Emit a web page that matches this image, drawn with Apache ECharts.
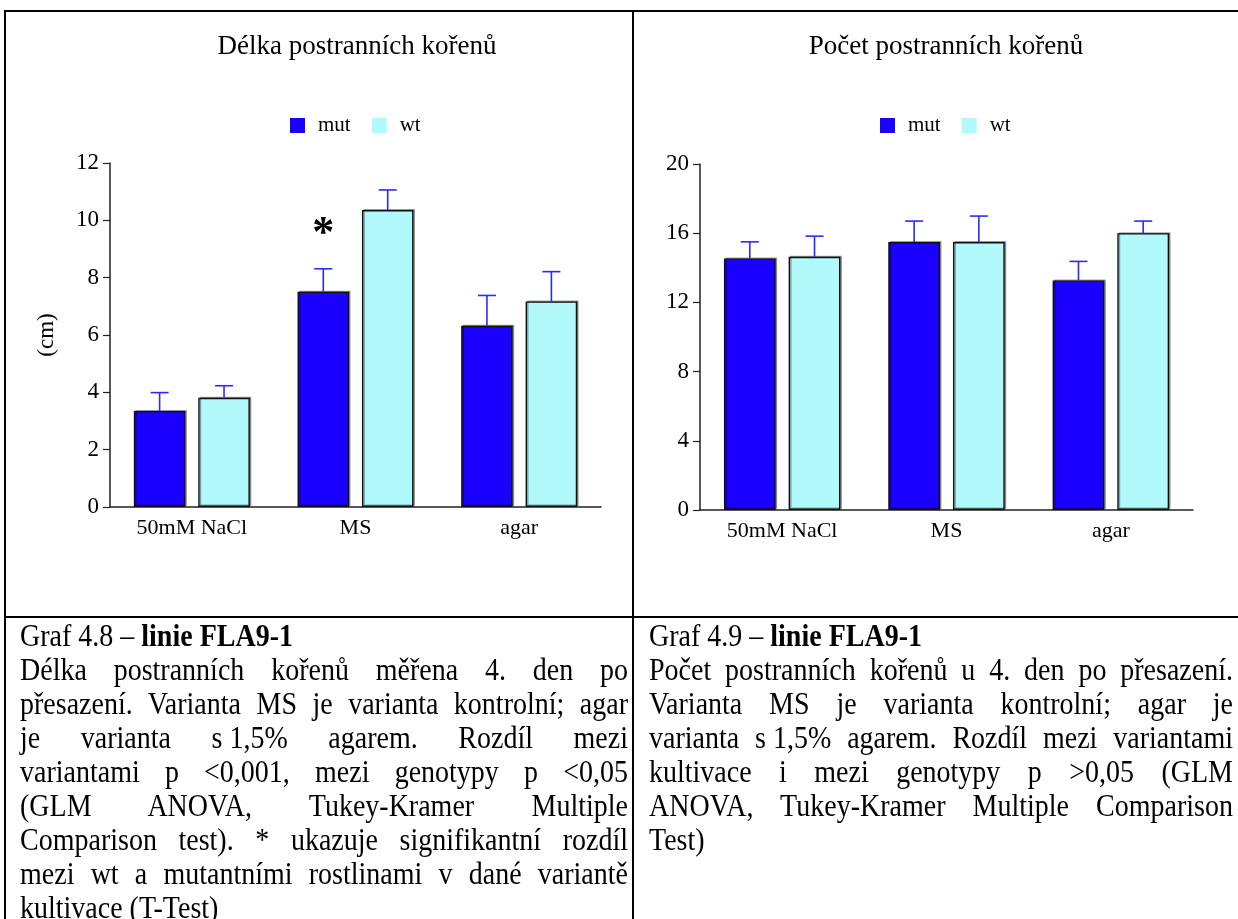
<!DOCTYPE html>
<html>
<head>
<meta charset="utf-8">
<script src="https://cdn.jsdelivr.net/npm/echarts@6/dist/echarts.min.js"></script>
<style>
html,body{margin:0;padding:0;background:#fff;}
#page{position:relative;width:1238px;height:919px;overflow:hidden;background:#fff;}
#chart{position:absolute;left:0;top:0;width:1238px;height:919px;}
.hl,.vl{position:absolute;background:#000;}
.cap{position:absolute;font-family:'Liberation Serif','Times New Roman',serif;font-size:28px;line-height:34px;color:#000;}
.cap div{white-space:nowrap;transform:scaleY(1.1);transform-origin:50% 50%;}
.j{text-align:justify;text-align-last:justify;}
.ib{display:inline-block;}
</style>
</head>
<body>
<div id="page">
  <div id="chart"></div>
  <div class="hl" style="left:4px;top:10px;width:1234px;height:2px;"></div>
  <div class="hl" style="left:4px;top:616px;width:1234px;height:2px;"></div>
  <div class="vl" style="left:4px;top:10px;width:2px;height:909px;"></div>
  <div class="vl" style="left:632px;top:10px;width:2px;height:909px;"></div>
  <div class="cap" style="left:20px;top:619px;width:608px;">
    <div>Graf 4.8 – <b>linie FLA9-1</b></div>
    <div class="j">Délka postranních kořenů měřena 4. den po</div>
    <div class="j">přesazení. Varianta MS je varianta kontrolní; agar</div>
    <div class="j">je varianta <span class="ib">s&nbsp;1,5%</span> agarem. Rozdíl mezi</div>
    <div class="j">variantami p &lt;0,001, mezi genotypy p &lt;0,05</div>
    <div class="j">(GLM ANOVA, Tukey-Kramer Multiple</div>
    <div class="j">Comparison test). * ukazuje signifikantní rozdíl</div>
    <div class="j">mezi wt a mutantními rostlinami v dané variantě</div>
    <div>kultivace (T-Test)</div>
  </div>
  <div class="cap" style="left:649px;top:619px;width:584px;">
    <div>Graf 4.9 – <b>linie FLA9-1</b></div>
    <div class="j">Počet postranních kořenů u 4. den po přesazení.</div>
    <div class="j">Varianta MS je varianta kontrolní; agar je</div>
    <div class="j">varianta <span class="ib">s&nbsp;1,5%</span> agarem. Rozdíl mezi variantami</div>
    <div class="j">kultivace i mezi genotypy p &gt;0,05 (GLM</div>
    <div class="j">ANOVA, Tukey-Kramer Multiple Comparison</div>
    <div>Test)</div>
  </div>
</div>
<script>
// ---- data ----
const categories = ['50mM NaCl', 'MS', 'agar'];
const seriesNames = ['mut', 'wt'];
// Délka postranních kořenů (cm)
const lengthMut = [3.35, 7.51, 6.32];
const lengthMutErr = [0.64, 0.80, 1.06];
const lengthWt = [3.81, 10.36, 7.17];
const lengthWtErr = [0.42, 0.70, 1.04];
const lengthSignif = ['', '*', ''];   // marker above mut bar
const lengthSignifValue = [null, 9.73, null];
// Počet postranních kořenů
const countMut = [14.54, 15.49, 13.27];
const countMutErr = [0.96, 1.21, 1.10];
const countWt = [14.64, 15.49, 16.00];
const countWtErr = [1.19, 1.50, 0.70];
// axes
const lengthAxis = {min: 0, max: 12, interval: 2};
const countAxis = {min: 0, max: 20, interval: 4};
const titles = ['Délka postranních kořenů', 'Počet postranních kořenů'];
const yName = '(cm)';

// ---- styling ----
const FONT = "'Liberation Serif', 'Times New Roman', serif";
const MUT_COLOR = '#1a00ff';
const WT_COLOR = '#b2f9fc';
const ERR_COLOR = '#2a2aff';
const BAR_FRAC = 0.315;
const BAR_GAP = 0.25;
const STAR_SIZE = 44;

const chart = echarts.init(document.getElementById('chart'), null, {renderer: 'canvas'});

function barOffset(api, side) {
  const band = api.size([1, 0])[0];
  const bw = band * BAR_FRAC;
  return side * bw * (1 + BAR_GAP) / 2;
}

function errRender(side) {
  return function (params, api) {
    const i = api.value(0);
    const v = api.value(1);
    const e = api.value(2);
    const base = api.coord([i, v]);
    const top = api.coord([i, v + e]);
    const x = base[0] + barOffset(api, side);
    const st = {stroke: ERR_COLOR, lineWidth: 1.6};
    return {
      type: 'group',
      children: [
        {type: 'line', shape: {x1: x, y1: base[1], x2: x, y2: top[1]}, style: st},
        {type: 'line', shape: {x1: x - 9, y1: top[1], x2: x + 9, y2: top[1]}, style: st}
      ]
    };
  };
}

function signifRender(params, api) {
  const i = api.value(0);
  const v = api.value(1);
  const p = api.coord([i, v]);
  const x = p[0] + barOffset(api, -1);
  return {
    type: 'text',
    x: x, y: p[1] + 0.16 * STAR_SIZE,
    style: {
      text: lengthSignif[i],
      font: 'bold ' + STAR_SIZE + 'px ' + FONT,
      fill: '#000',
      textAlign: 'center',
      textVerticalAlign: 'middle'
    }
  };
}

function barStyle(color) {
  return {
    color: color,
    borderColor: '#111',
    borderWidth: 1.4,
    shadowColor: 'rgba(0,0,0,0.35)',
    shadowOffsetX: 1.5,
    shadowOffsetY: -1,
    shadowBlur: 0
  };
}

function xAxisDef(gridIndex) {
  return {
    type: 'category',
    gridIndex: gridIndex,
    data: categories,
    axisLine: {lineStyle: {color: '#222', width: 1.5}},
    axisTick: {alignWithLabel: true, length: 7, lineStyle: {color: '#222', width: 1.2}},
    axisLabel: {color: '#000', fontFamily: FONT, fontSize: 22, margin: 10},
    splitLine: {show: false}
  };
}

function yAxisDef(gridIndex, ax, name) {
  const d = {
    type: 'value',
    gridIndex: gridIndex,
    min: ax.min, max: ax.max, interval: ax.interval,
    axisLine: {show: true, lineStyle: {color: '#222', width: 1.5}},
    axisTick: {show: true, length: 7, lineStyle: {color: '#222', width: 1.2}},
    axisLabel: {color: '#000', fontFamily: FONT, fontSize: 23, margin: 11},
    splitLine: {show: false}
  };
  if (name) {
    d.name = name;
    d.nameLocation = 'middle';
    d.nameRotate = 90;
    d.nameGap = 52;
    d.nameTextStyle = {color: '#000', fontFamily: FONT, fontSize: 23};
  }
  return d;
}

function legendDef(left) {
  return {
    data: seriesNames,
    left: left, top: 115,
    padding: 0,
    icon: 'rect',
    itemWidth: 15, itemHeight: 15,
    itemGap: 21,
    itemStyle: {borderWidth: 0, shadowBlur: 0, shadowOffsetX: 0, shadowOffsetY: 0},
    textStyle: {color: '#000', fontFamily: FONT, fontSize: 21, padding: [0, 0, 0, 8]},
    selectedMode: false
  };
}

function idx(arr, errs) {
  return arr.map((v, i) => [i, v, errs[i]]);
}

const option = {
  animation: false,
  backgroundColor: 'transparent',
  title: [
    {text: titles[0], left: 357, top: 33, textAlign: 'center', padding: 0,
     textStyle: {fontFamily: FONT, fontSize: 27, fontWeight: 'normal', color: '#000'}},
    {text: titles[1], left: 946, top: 33, textAlign: 'center', padding: 0,
     textStyle: {fontFamily: FONT, fontSize: 27, fontWeight: 'normal', color: '#000'}}
  ],
  legend: [legendDef(290), legendDef(880)],
  grid: [
    {left: 110, right: 637, top: 163, bottom: 412},
    {left: 700, right: 45, top: 164, bottom: 409}
  ],
  xAxis: [xAxisDef(0), xAxisDef(1)],
  yAxis: [yAxisDef(0, lengthAxis, yName), yAxisDef(1, countAxis, null)],
  series: [
    {name: 'mut', type: 'bar', xAxisIndex: 0, yAxisIndex: 0, data: lengthMut,
     barWidth: (BAR_FRAC * 100) + '%', barGap: (BAR_GAP * 100) + '%', itemStyle: barStyle(MUT_COLOR)},
    {name: 'wt', type: 'bar', xAxisIndex: 0, yAxisIndex: 0, data: lengthWt,
     barWidth: (BAR_FRAC * 100) + '%', barGap: (BAR_GAP * 100) + '%', itemStyle: barStyle(WT_COLOR)},
    {name: 'mut', type: 'bar', xAxisIndex: 1, yAxisIndex: 1, data: countMut,
     barWidth: (BAR_FRAC * 100) + '%', barGap: (BAR_GAP * 100) + '%', itemStyle: barStyle(MUT_COLOR)},
    {name: 'wt', type: 'bar', xAxisIndex: 1, yAxisIndex: 1, data: countWt,
     barWidth: (BAR_FRAC * 100) + '%', barGap: (BAR_GAP * 100) + '%', itemStyle: barStyle(WT_COLOR)},
    {type: 'custom', xAxisIndex: 0, yAxisIndex: 0, renderItem: errRender(-1),
     data: idx(lengthMut, lengthMutErr), encode: {x: 0, y: 1}, z: 3, silent: true},
    {type: 'custom', xAxisIndex: 0, yAxisIndex: 0, renderItem: errRender(1),
     data: idx(lengthWt, lengthWtErr), encode: {x: 0, y: 1}, z: 3, silent: true},
    {type: 'custom', xAxisIndex: 1, yAxisIndex: 1, renderItem: errRender(-1),
     data: idx(countMut, countMutErr), encode: {x: 0, y: 1}, z: 3, silent: true},
    {type: 'custom', xAxisIndex: 1, yAxisIndex: 1, renderItem: errRender(1),
     data: idx(countWt, countWtErr), encode: {x: 0, y: 1}, z: 3, silent: true},
    {type: 'custom', xAxisIndex: 0, yAxisIndex: 0, renderItem: signifRender,
     data: lengthSignifValue.map((v, i) => [i, v]).filter(d => d[1] != null),
     encode: {x: 0, y: 1}, z: 4, silent: true}
  ]
};
chart.setOption(option);
</script>
</body>
</html>
